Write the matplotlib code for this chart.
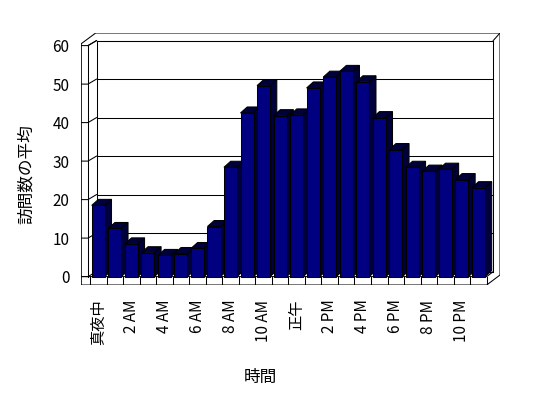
import matplotlib
matplotlib.use("Agg")
import matplotlib.pyplot as plt
from matplotlib.patches import Polygon

plt.rcParams['font.family'] = ['Noto Sans CJK JP', 'DejaVu Sans']

# average visits per hour of day
hours = list(range(24))
visits = [18.5, 12.5, 8.5, 6.2, 5.5, 6.0, 7.3, 13.0, 28.4, 42.5, 49.6, 41.8,
          42.0, 49.0, 51.8, 53.3, 50.6, 41.3, 33.0, 28.4, 27.4, 27.9, 25.2, 23.1]
tick_pos = list(range(0, 24, 2))
tick_labels = ['真夜中', '2 AM', '4 AM', '6 AM', '8 AM', '10 AM',
               '正午', '2 PM', '4 PM', '6 PM', '8 PM', '10 PM']
y_ticks = list(range(0, 61, 10))

W, H = 548, 398
fig = plt.figure(figsize=(W / 100, H / 100), dpi=100)
ax = fig.add_axes([81.3 / W, 1 - 285 / H, (500 - 81.3) / W, (285 - 33) / H])

# pixel sizes -> data units
cat_px = 16.53
val_px = 3.85
xl = (-0.5 + (81.3 - 90) / cat_px, -0.5 + (500 - 90) / cat_px)
yl = ((276.6 - 285) / val_px, (276.6 - 33) / val_px)
ax.set_xlim(*xl)
ax.set_ylim(*yl)

def dx(p):
    return p / cat_px

def dy(p):
    return p / val_px

lw = 0.75
k = 'black'
n = len(hours)
x_first = -0.5
x_last = n - 0.5
BX, BY = dx(6.5), dy(5)      # back wall offset
x_in = x_first - dx(2)       # inner edge of the left wall

# outer box
outline = [(xl[0], yl[0]), (xl[0], 60.5), (x_first + dx(5.7), yl[1]), (xl[1], yl[1]),
           (xl[1], dy(1.6)), (x_last, yl[0])]
ax.add_patch(Polygon(outline, closed=True, facecolor='white', edgecolor=k, lw=lw, zorder=1))
# back wall
ax.add_patch(Polygon([(x_first + BX, BY), (x_first + BX, 60 + BY), (x_last + BX, 60 + BY),
                      (x_last + BX, BY)], closed=True, facecolor='white', edgecolor=k,
                     lw=lw, zorder=1.1))
ax.plot([xl[1], x_last + BX], [yl[1], 60 + BY], color=k, lw=lw, zorder=1.2)
ax.plot([x_in, x_in], [0, 60], color=k, lw=lw, zorder=1.2)
ax.plot([x_in, x_first + BX], [60, 60 + BY], color=k, lw=lw, zorder=1.2)

# grid on the back wall and ticks on the left wall
for v in y_ticks:
    ax.plot([x_first + BX, x_last + BX], [v + BY, v + BY], color=k, lw=lw, zorder=1.3)
    ax.plot([xl[0], x_in, x_first + BX], [v, v, v + BY], color=k, lw=lw, zorder=1.3)

# floor slab
ax.plot([xl[0], x_last, x_last + BX], [0, 0, BY], color=k, lw=lw, zorder=1.4)
for i in range(n + 1):
    ax.plot([x_first + i, x_first + i], [yl[0], 0], color=k, lw=lw, zorder=1.4)

# 3d looking columns
w = 0.79
BDX, BDY = dx(6.7), dy(6)
front = '#000080'
dark = '#00003a'
bars = ax.bar(hours, visits, width=w, color=front, edgecolor=k, lw=lw)
for i, (x, v) in enumerate(zip(hours, visits)):
    z = 2 + i * 0.01
    r = x + w / 2
    l = x - w / 2
    side = [(r, 0), (r + BDX, BDY), (r + BDX, v + BDY), (r, v)]
    top = [(l, v), (l + BDX, v + BDY), (r + BDX, v + BDY), (r, v)]
    ax.add_patch(Polygon(side, closed=True, facecolor=dark, edgecolor=k, lw=lw, zorder=z))
    ax.add_patch(Polygon(top, closed=True, facecolor=dark, edgecolor=k, lw=lw, zorder=z))
    bars[i].set_zorder(z + 0.005)

for s in ax.spines.values():
    s.set_visible(False)
ax.patch.set_visible(False)
ax.set_yticks(y_ticks)
ax.set_yticklabels([str(v) for v in y_ticks], fontsize=11)
ax.set_xticks(tick_pos)
ax.set_xticklabels(tick_labels, rotation=90, fontsize=11)
ax.tick_params(axis='y', length=0, pad=8.5)
ax.tick_params(axis='x', length=0, pad=10.5)

fig.text(26.5 / W, 1 - 174 / H, '訪問数の平均', rotation=90, ha='center', va='center', fontsize=12)
fig.text(260 / W, 1 - 377 / H, '時間', ha='center', va='center', fontsize=12)

fig.savefig('out.png', dpi=100, facecolor='white')
